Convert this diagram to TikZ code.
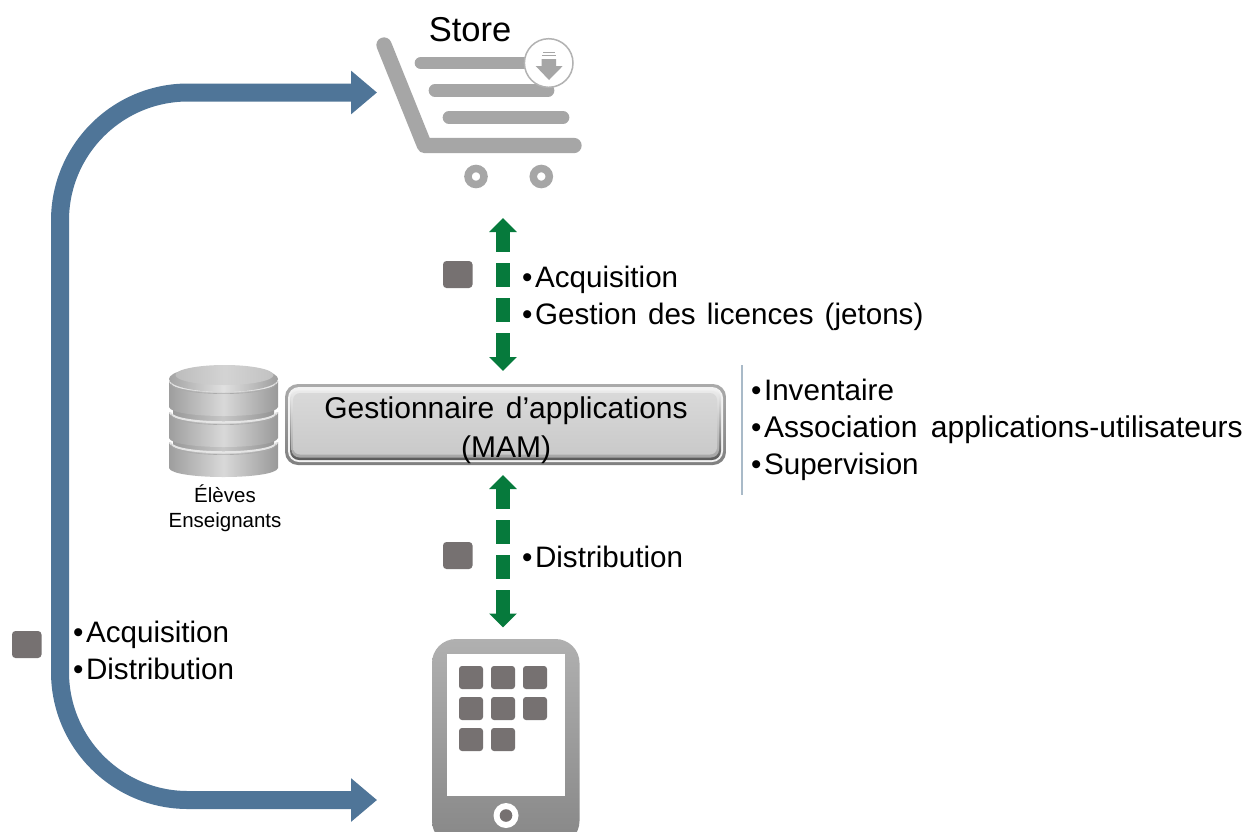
\documentclass[tikz,border=0pt]{standalone}
\usepackage{fontspec}
\setmainfont{Liberation Sans}
\usetikzlibrary{arrows.meta}
\definecolor{flowblue}{HTML}{4F7598}
\definecolor{flowgreen}{HTML}{067A3C}
\definecolor{cartgrey}{HTML}{A6A6A6}
\definecolor{chipgrey}{HTML}{767171}
\definecolor{rulegrey}{HTML}{A9BAC8}
\newcommand{\widesp}{\spaceskip 11pt\relax}
\newcommand{\blt}{•\hspace{2.5pt}}
\newcommand{\dbtier}[1]{%
  \shade[left color=black!38,right color=black!40,middle color=black!15]
    (169,#1) -- (169,#1+26) .. controls (172,#1+38) and (275,#1+38) .. (278,#1+26) -- (278,#1)
    .. controls (275,#1+14) and (172,#1+14) .. (169,#1) -- cycle;
  \draw[black!10,line width=2pt] (170,#1+0.5) .. controls (174,#1+13.5) and (273,#1+13.5) .. (277,#1+0.5);
  \draw[black!33,line width=0.6pt] (171,#1+2.5) .. controls (174,#1+16) and (273,#1+16) .. (276,#1+2.5);
}
\tikzset{
  body/.style={font=\fontsize{29.6}{37}\selectfont\widesp,align=left,inner sep=0pt,anchor=west},
  chip/.style={fill=chipgrey,rounded corners=3.5pt},
  cartline/.style={draw=cartgrey,line cap=round,line join=round},
  bigflow/.style={draw=flowblue,line width=18pt,rounded corners=128pt,
    {Triangle[length=26pt,width=42pt]}-{Triangle[length=26pt,width=42pt]}},
  dashflow/.style={draw=flowgreen,line width=14pt,dash pattern=on 24pt off 11pt,dash phase=3pt,
    {Triangle[length=14pt,width=27pt]}-{Triangle[length=14pt,width=27pt]}},
}
\begin{document}
\begin{tikzpicture}[x=1pt,y=-1pt]
\useasboundingbox (0,0) rectangle (1246,831);
\clip (0,0) rectangle (1246,831);
\fill[white] (0,0) rectangle (1246,831);

% store cart
\node[font=\fontsize{34.5}{36}\selectfont,inner sep=0pt] (store) at (470,30) {Store};
\draw[cartline,line width=15.3pt] (384,45) -- (424.5,145.5) -- (574,145.5);
\draw[cartline,line width=12.7pt] (421,63) -- (535,63);
\draw[cartline,line width=12.7pt] (435,90.5) -- (548,90.5);
\draw[cartline,line width=12.7pt] (449,117.5) -- (563,117.5);
\draw[cartgrey,line width=7.5pt] (476,176.5) circle[radius=8];
\draw[cartgrey,line width=7.5pt] (541.3,176.5) circle[radius=8];
\draw[fill=white,draw=black!30,line width=1.5pt] (548.7,63) circle[radius=24.3];
\draw[cartgrey,line width=0.8pt] (543,52) -- (555,52) (542,55) -- (556,55);
\fill[cartgrey] (541.7,59) -- (556,59) -- (556,66) -- (562.7,66) -- (549,80) -- (535.7,66) -- (541.7,66) -- cycle;

% database
\shade[left color=black!40,right color=black!42,middle color=black!22] (173,385) rectangle (274,470);
\dbtier{442}
\dbtier{412}
\dbtier{381}
\shade[left color=black!36,right color=black!38,middle color=black!12]
  (223.5,379) ellipse[x radius=54.5,y radius=13];
\shade[left color=black!26,right color=black!24,middle color=black!17]
  (224.5,375) ellipse[x radius=49,y radius=10];

\node[font=\fontsize{20.5}{25}\selectfont,align=center,inner sep=0pt] (users) at (225,508) {Élèves\\Enseignants};

% MAM box
\shade[top color=black!33,bottom color=black!50,rounded corners=13pt] (285,384) rectangle (726,465);
\fill[black!5,rounded corners=11pt] (288,387) rectangle (723,462);
\shade[top color=black!5,bottom color=black!65,rounded corners=9pt] (290,389) rectangle (721,460);
\shade[top color=black!8,bottom color=black!35,rounded corners=8pt] (291.5,390.5) rectangle (719,457.5);
\shade[top color=black!15,bottom color=black!21,rounded corners=7pt] (293,393) rectangle (717,454.5);
\node[font=\fontsize{30}{38.5}\selectfont\spaceskip 11.5pt\relax,align=center,text=black,inner sep=0pt] (mam) at (506,430) {Gestionnaire d’applications\\(MAM)};

% tablet
\shade[top color=black!31,bottom color=black!47,rounded corners=24pt] (432,639) rectangle (579.5,845);
\fill[white] (447,654) rectangle (565,796);
\foreach \cx/\cy in {459/666,491/666,523/666,459/697,491/697,523/697,459/728,491/728}
  \fill[chipgrey,rounded corners=3pt] (\cx,\cy) rectangle ++(24,23);
\fill[white] (506,815.5) circle[radius=12.5];
\fill[chipgrey] (506,815.5) circle[radius=6.3];

% connectors
\coordinate (storeIn) at (377,92.5);
\coordinate (tabletIn) at (377,800);
\coordinate (bendA) at (60,92.5);
\coordinate (bendB) at (60,800);
\draw[bigflow] (storeIn) -- (bendA) -- (bendB) -- (tabletIn);

\coordinate (upA) at (503,218);
\coordinate (upB) at (503,371);
\coordinate (lowA) at (503,475);
\coordinate (lowB) at (503,627.5);
\draw[dashflow] (upA) -- (upB);
\draw[dashflow] (lowA) -- (lowB);

% chips
\fill[chip] (443,261) rectangle (472.5,288);
\fill[chip] (443,542) rectangle (472.5,569);
\fill[chip] (12,631) rectangle (41.5,658);

% rule
\coordinate (ruleA) at (742,365);
\coordinate (ruleB) at (742,495);
\draw[rulegrey,line width=1.2pt] (ruleA) -- (ruleB);

% texts
\node[body] (t1) at (522,298.5) {\blt Acquisition\\\blt Gestion des licences (jetons)};
\node[body] (t2) at (522,557) {\blt Distribution};
\node[body] (t3) at (73,650.5) {\blt Acquisition\\\blt Distribution};
\node[body] (t4) at (751,430) {\blt Inventaire\\\blt{\fontsize{30}{37}\selectfont\spaceskip 13.5pt\relax Association applications-utilisateurs}\\\blt Supervision};
\end{tikzpicture}
\end{document}
